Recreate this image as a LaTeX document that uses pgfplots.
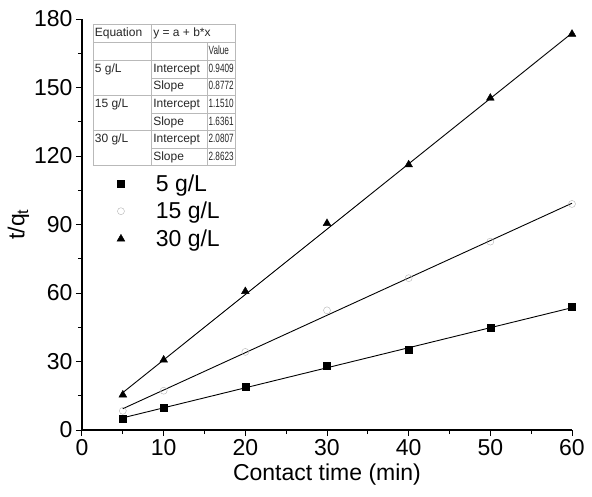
\documentclass[border=0pt]{standalone}
\usepackage{pgfplots}
\pgfplotsset{compat=1.18}
\usepackage{fontspec}
\setmainfont{Liberation Sans}
\newfontfamily\numfont[FakeStretch=0.68]{Liberation Sans}
\usepackage{colortbl}
\newcommand{\nm}[1]{{\numfont #1}}
\begin{document}
\begin{tikzpicture}
\begin{axis}[
  scale only axis, width=490pt, height=411pt,
  xmin=0, xmax=60, ymin=0, ymax=180,
  axis lines*=left,
  axis line style={line width=1.1pt},
  xtick={0,10,...,60}, ytick={0,30,...,180},
  minor x tick num=1, minor y tick num=1,
  tick align=outside, major tick length=6pt, minor tick length=4pt,
  every tick/.style={line width=1pt, black},
  /pgf/number format/assume math mode=true,
  tick label style={font=\fontsize{23}{26}\selectfont},
  xlabel={Contact time (min)},
  ylabel={t/q\textsubscript{t}},
  label style={font=\fontsize{23}{26}\selectfont},
  xlabel style={yshift=-1pt},
  ylabel style={yshift=-2pt},
  clip=false,
  legend style={draw=none, fill=none, at={(rel axis cs:0.065,0.632)}, anchor=north west,
    font=\fontsize{23}{26}\selectfont, row sep=5.5pt, column sep=29pt},
  legend cell align=left,
]
\coordinate (SW) at (rel axis cs:0,0);
\coordinate (NE) at (rel axis cs:1,1);
% fitted lines
\addplot[black, line width=0.9pt, forget plot] coordinates {(5,5.33) (60,53.57)};
\addplot[black, line width=0.9pt, forget plot] coordinates {(5,9.33) (60,99.32)};
\addplot[black, line width=0.9pt, forget plot] coordinates {(5,16.39) (60,173.82)};
% data
\addplot[only marks, mark=square*, mark size=3.5pt, black] coordinates {
(5,4.8) (10,9.6) (20,18.8) (30,28.2) (40,35.0) (50,44.6) (60,53.9)};
\addlegendentry{5 g/L}
\addplot[only marks, mark=o, mark size=3.5pt, gray!60, mark options={fill=white}] coordinates {
(5,8.4) (10,17.2) (20,34.2) (30,52.4) (40,66.5) (50,82.5) (60,99.0)};
\addlegendentry{15 g/L}
\addplot[only marks, mark=triangle*, mark size=4.5pt, black] coordinates {
(5,15.4) (10,30.7) (20,60.7) (30,90.5) (40,116.2) (50,145.4) (60,173.4)};
\addlegendentry{30 g/L}
\node[anchor=north west, inner sep=0pt, font=\fontsize{12}{13}\selectfont, text=black!85]
  at (rel axis cs:0.022,0.988) {%
  \arrayrulecolor{gray!55}\setlength{\tabcolsep}{1.5pt}\renewcommand{\arraystretch}{1.34}%
  \begin{tabular}{|p{55pt}|p{52pt}|p{25pt}|}\hline
  Equation & \multicolumn{2}{l|}{y = a + b*x}\\\hline
   & & \nm{Value}\\\hline
  5 g/L & Intercept & \nm{0.9409}\\\cline{2-3}
   & Slope & \nm{0.8772}\\\hline
  15 g/L & Intercept & \nm{1.1510}\\\cline{2-3}
   & Slope & \nm{1.6361}\\\hline
  30 g/L & Intercept & \nm{2.0807}\\\cline{2-3}
   & Slope & \nm{2.8623}\\\hline
  \end{tabular}};
\end{axis}
\pgfresetboundingbox
\path ([shift={(-82pt,-66pt)}]SW) rectangle ([shift={(20pt,19pt)}]NE);
\end{tikzpicture}
\end{document}
